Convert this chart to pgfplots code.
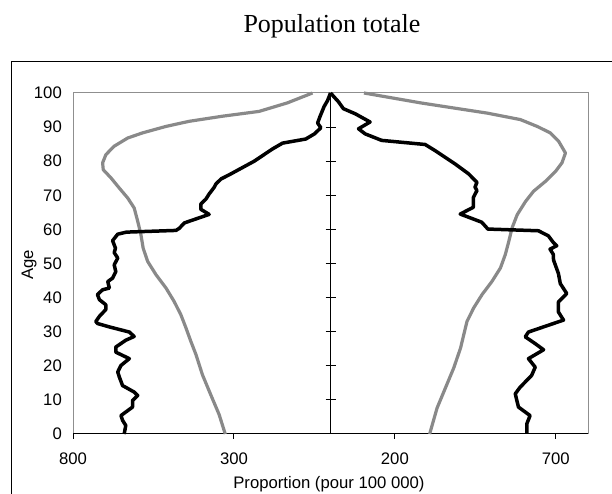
\documentclass[border=0pt]{standalone}
\usepackage{fontspec}
\setmainfont{Liberation Sans}
\newfontfamily\titlefont{Liberation Serif}
\usepackage{pgfplots}
\pgfplotsset{compat=1.18}
\definecolor{curvegray}{HTML}{898989}
\definecolor{framegray}{HTML}{8F8F8F}
\begin{document}
\begin{tikzpicture}[x=1pt,y=1pt]
\useasboundingbox (0,0) rectangle (612,494);
\draw[black, line width=1pt] (11.5,0) -- (11.5,432) -- (612,432);
\node[anchor=base, font=\titlefont\fontsize{26}{30}\selectfont] at (332,461) {Population totale};
\node[anchor=base, rotate=90, font=\fontsize{16.7}{20}\selectfont] at (33,229) {Age};
% centre vertical axis with crossing ticks
\begin{axis}[
  at={(73pt,60pt)}, anchor=south west,
  scale only axis, width=515pt, height=341pt,
  xmin=-800, xmax=800, ymin=0, ymax=100,
  axis x line=none, axis y line=center,
  axis line style={black, line width=1pt, -},
  ytick={10,20,...,100}, yticklabels={}, xtick=\empty,
  tick align=center, major tick length=10pt,
  y tick style={black, line width=1pt},
]
\end{axis}
\begin{axis}[
  at={(73pt,60pt)}, anchor=south west,
  scale only axis, width=515pt, height=341pt,
  xmin=-800, xmax=800, ymin=0, ymax=100,
  clip=false,
  axis line style={draw=framegray, line width=1pt},
  xtick={-800,-300,200,700}, xticklabels={800,300,200,700},
  ytick={0,10,...,100},
  xtick pos=bottom, ytick pos=left,
  tick align=outside, major tick length=5pt,
  x tick style={black, line width=1pt},
  y tick style={draw=none},
  tick label style={font=\fontsize{16.7}{20}\selectfont},
  label style={font=\fontsize{16.7}{20}\selectfont},
  /pgf/number format/assume math mode=true,
  yticklabel style={anchor=east, inner sep=0pt, xshift=-6pt},
  xticklabel style={anchor=base, inner sep=0pt, yshift=-26pt},
  xlabel={Proportion (pour 100 000)},
  xlabel style={at={(axis description cs:0.497,-0.1584)}, anchor=base, inner sep=0pt},
]
\draw[black, line width=1pt] (rel axis cs:0,0) -- (rel axis cs:1,0);
% left gray
\addplot[curvegray, line width=3.2pt, line join=round] coordinates {
(-56,100) (-134,97.1) (-222,94.6) (-335,93.2) (-439,91.7) (-511,90.2) (-584,88.3) (-630,86.8) (-672,84.4) (-698,81.9) (-708,79.5) (-706,77.5) (-682,75.1) (-656,72.1) (-630,69.2) (-610,66.3) (-599,62.4) (-589,58.5) (-582,54.5) (-568,50.6) (-542,46.7) (-511,42.8) (-486,38.9) (-465,35) (-449,31.1) (-434,27.2) (-418,23.3) (-398,17.4) (-372,11.5) (-346,5.7) (-327,0)
};
% right gray
\addplot[curvegray, line width=3.2pt, line join=round] coordinates {
(104,100) (280,97.1) (383,95.6) (487,94.1) (590,92.2) (642,90.2) (683,88.3) (709,85.8) (730,82.4) (719,79.5) (699,77) (668,74.1) (631,71.2) (606,68.2) (580,64.3) (564,60.4) (554,56.5) (543,52.6) (528,48.7) (502,44.8) (471,40.9) (445,37) (424,33) (414,29.1) (404,25.2) (383,19.4) (357,13.5) (331,7.6) (308,0)
};
% left black
\addplot[black, line width=3.5pt, line join=round] coordinates {
(0,100) (-9,97.8) (-20,96) (-33,93) (-40,91.2) (-30,89.8) (-50,88) (-77,86.5) (-149,85.3) (-180,83.6) (-237,80) (-315,76) (-340,74.8) (-356,73.3) (-361,72.4) (-368,71.5) (-377,70.4) (-387,68.9) (-403,67.4) (-403,65.9) (-377,64.4) (-454,61.9) (-470,60.3) (-480,59.7) (-634,59.2) (-661,58.6) (-677,56.7) (-668,54.5) (-672,53.2) (-661,51.6) (-672,49.6) (-667,47.6) (-677,45.7) (-692,44.7) (-687,42.8) (-708,42.3) (-724,40.9) (-718,39.4) (-698,37.9) (-698,36.5) (-718,34.5) (-729,33) (-724,32.4) (-687,31.4) (-625,29.9) (-610,28.6) (-636,27.5) (-667,25.5) (-667,24) (-625,22.1) (-651,20.1) (-661,18.2) (-656,16.7) (-646,14.2) (-610,12.3) (-599,11.3) (-615,9.8) (-615,7.9) (-651,5.4) (-646,4) (-636,2.5) (-641,0)
};
% right black
\addplot[black, line width=3.5pt, line join=round] coordinates {
(0,100) (25,97.4) (40,95.4) (77,93.9) (123,91.5) (87,89.5) (108,88) (159,86.1) (294,84.9) (325,83.1) (387,79.2) (429,76.3) (455,73.8) (449,72.4) (455,71.4) (444,69.4) (444,66.5) (403,64.5) (470,62.1) (489,60.1) (646,59.6) (677,58.1) (692,56.2) (703,55.2) (682,54.2) (692,52.7) (693,51) (708,47.1) (714,44.1) (734,41.2) (708,38.7) (708,35.8) (724,33.4) (677,31.9) (615,29.9) (605,28.5) (636,26.5) (662,24.7) (615,22.1) (636,19.6) (625,17.2) (589,13.7) (574,11.8) (579,9.8) (584,7.9) (620,5.4) (610,3) (610,0)
};
\end{axis}
\end{tikzpicture}
\end{document}
